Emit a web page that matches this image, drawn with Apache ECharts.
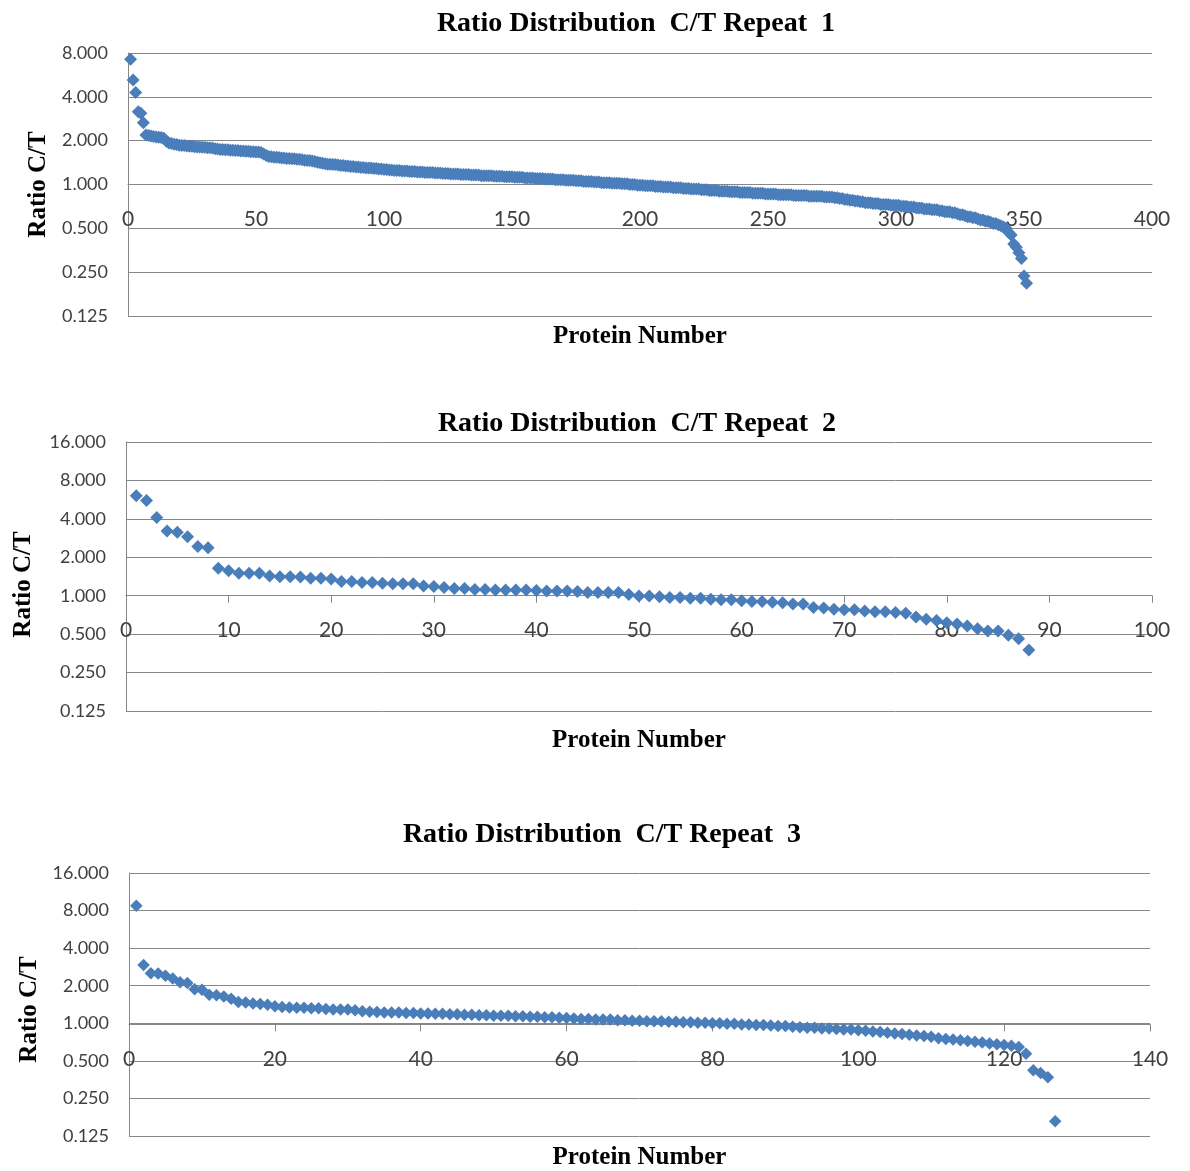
<!DOCTYPE html>
<html>
<head>
<meta charset="utf-8">
<script src="https://cdn.jsdelivr.net/npm/echarts@6/dist/echarts.min.js"></script>
<style>
  html, body { margin: 0; padding: 0; background: #ffffff; }
  #chart { width: 1190px; height: 1171px; }
</style>
</head>
<body>
<div id="chart"></div>
<script>
// Sorted C/T ratios per protein, one array per repeat (protein number = position + 1)
const ratiosRepeat1 = [
  7.24, 5.22, 4.29, 3.16, 3.08, 2.66, 2.19, 2.17, 2.15, 2.14,
  2.12, 2.11, 2.10, 2.08, 1.98, 1.93, 1.91, 1.89, 1.88, 1.86,
  1.85, 1.85, 1.84, 1.83, 1.83, 1.82, 1.81, 1.81, 1.80, 1.80,
  1.79, 1.79, 1.78, 1.76, 1.75, 1.74, 1.74, 1.73, 1.73, 1.72,
  1.72, 1.71, 1.71, 1.70, 1.70, 1.69, 1.69, 1.68, 1.68, 1.67,
  1.67, 1.66, 1.62, 1.58, 1.56, 1.55, 1.54, 1.54, 1.53, 1.52,
  1.52, 1.51, 1.51, 1.50, 1.50, 1.49, 1.49, 1.48, 1.47, 1.46,
  1.46, 1.45, 1.44, 1.42, 1.41, 1.40, 1.39, 1.38, 1.38, 1.37,
  1.37, 1.36, 1.35, 1.35, 1.34, 1.34, 1.33, 1.33, 1.32, 1.32,
  1.31, 1.31, 1.30, 1.30, 1.30, 1.29, 1.29, 1.28, 1.28, 1.27,
  1.27, 1.26, 1.26, 1.25, 1.25, 1.25, 1.24, 1.24, 1.24, 1.23,
  1.23, 1.23, 1.22, 1.22, 1.22, 1.21, 1.21, 1.21, 1.21, 1.20,
  1.20, 1.20, 1.19, 1.19, 1.19, 1.18, 1.18, 1.18, 1.18, 1.17,
  1.17, 1.17, 1.17, 1.16, 1.16, 1.16, 1.16, 1.15, 1.15, 1.15,
  1.15, 1.15, 1.14, 1.14, 1.14, 1.14, 1.13, 1.13, 1.13, 1.13,
  1.12, 1.12, 1.12, 1.12, 1.11, 1.11, 1.11, 1.11, 1.10, 1.10,
  1.10, 1.10, 1.09, 1.09, 1.09, 1.09, 1.08, 1.08, 1.08, 1.08,
  1.07, 1.07, 1.07, 1.07, 1.06, 1.06, 1.06, 1.05, 1.05, 1.05,
  1.05, 1.04, 1.04, 1.04, 1.03, 1.03, 1.03, 1.03, 1.02, 1.02,
  1.02, 1.02, 1.01, 1.01, 1.01, 1.00, 1.00, 1.00, 0.99, 0.99,
  0.99, 0.98, 0.98, 0.98, 0.98, 0.97, 0.97, 0.97, 0.96, 0.96,
  0.96, 0.96, 0.95, 0.95, 0.95, 0.95, 0.94, 0.94, 0.94, 0.93,
  0.93, 0.93, 0.93, 0.92, 0.92, 0.92, 0.91, 0.91, 0.91, 0.91,
  0.90, 0.90, 0.90, 0.90, 0.89, 0.89, 0.89, 0.89, 0.88, 0.88,
  0.88, 0.88, 0.88, 0.87, 0.87, 0.87, 0.87, 0.87, 0.86, 0.86,
  0.86, 0.86, 0.86, 0.85, 0.85, 0.85, 0.85, 0.85, 0.85, 0.84,
  0.84, 0.84, 0.84, 0.84, 0.84, 0.83, 0.83, 0.83, 0.83, 0.83,
  0.83, 0.82, 0.82, 0.82, 0.82, 0.81, 0.81, 0.80, 0.80, 0.79,
  0.79, 0.78, 0.78, 0.77, 0.77, 0.76, 0.76, 0.75, 0.75, 0.75,
  0.74, 0.74, 0.74, 0.73, 0.73, 0.73, 0.73, 0.72, 0.72, 0.72,
  0.72, 0.71, 0.71, 0.71, 0.70, 0.70, 0.70, 0.69, 0.69, 0.69,
  0.68, 0.68, 0.68, 0.67, 0.67, 0.67, 0.66, 0.66, 0.65, 0.65,
  0.65, 0.64, 0.64, 0.63, 0.62, 0.62, 0.61, 0.60, 0.60, 0.59,
  0.59, 0.58, 0.57, 0.57, 0.56, 0.56, 0.55, 0.54, 0.54, 0.53,
  0.52, 0.51, 0.50, 0.47, 0.45, 0.39, 0.37, 0.34, 0.31, 0.235, 0.21
];

const ratiosRepeat2 = [
  6.06, 5.58, 4.09, 3.21, 3.14, 2.90, 2.43, 2.38, 1.64, 1.57,
  1.50, 1.50, 1.50, 1.43, 1.41, 1.41, 1.40, 1.37, 1.37, 1.35,
  1.29, 1.29, 1.27, 1.27, 1.25, 1.24, 1.24, 1.24, 1.19, 1.18,
  1.16, 1.14, 1.14, 1.12, 1.12, 1.11, 1.11, 1.11, 1.11, 1.10,
  1.09, 1.09, 1.09, 1.08, 1.06, 1.06, 1.06, 1.06, 1.02, 0.995,
  0.995, 0.98, 0.97, 0.97, 0.955, 0.955, 0.94, 0.93, 0.93, 0.915,
  0.90, 0.90, 0.89, 0.88, 0.86, 0.86, 0.81, 0.80, 0.785, 0.775,
  0.775, 0.76, 0.75, 0.75, 0.74, 0.73, 0.68, 0.655, 0.64, 0.615,
  0.60, 0.58, 0.55, 0.53, 0.53, 0.49, 0.46, 0.375
];

const ratiosRepeat3 = [
  8.74, 2.93, 2.52, 2.50, 2.40, 2.28, 2.13, 2.10, 1.87, 1.86,
  1.69, 1.68, 1.64, 1.57, 1.48, 1.47, 1.44, 1.43, 1.41, 1.37,
  1.35, 1.34, 1.33, 1.33, 1.32, 1.32, 1.30, 1.29, 1.29, 1.29,
  1.27, 1.25, 1.24, 1.23, 1.22, 1.22, 1.22, 1.21, 1.21, 1.20,
  1.20, 1.19, 1.19, 1.18, 1.18, 1.17, 1.17, 1.16, 1.16, 1.15,
  1.15, 1.15, 1.14, 1.14, 1.13, 1.13, 1.12, 1.12, 1.11, 1.10,
  1.09, 1.08, 1.08, 1.07, 1.07, 1.07, 1.06, 1.06, 1.05, 1.05,
  1.04, 1.04, 1.04, 1.03, 1.03, 1.02, 1.02, 1.01, 1.01, 1.00,
  1.00, 0.99, 0.99, 0.98, 0.98, 0.97, 0.97, 0.96, 0.95, 0.95,
  0.94, 0.93, 0.92, 0.92, 0.91, 0.91, 0.90, 0.89, 0.89, 0.88,
  0.87, 0.86, 0.85, 0.84, 0.83, 0.82, 0.81, 0.80, 0.79, 0.78,
  0.76, 0.75, 0.74, 0.73, 0.72, 0.71, 0.70, 0.69, 0.68, 0.67,
  0.66, 0.645, 0.57, 0.42, 0.40, 0.37, 0.164
];

const chartTitles = [
  'Ratio Distribution  C/T Repeat  1',
  'Ratio Distribution  C/T Repeat  2',
  'Ratio Distribution  C/T Repeat  3'
];
const xAxisTitle = 'Protein Number';
const yAxisTitle = 'Ratio C/T';
const xMaxima = [400, 100, 140];
const xSteps = [50, 10, 20];
const yMinima = [0.125, 0.125, 0.125];
const yMaxima = [8, 16, 16];

// Panel geometry and styling
const panels = [
  { grid: { left: 128, top: 53, width: 1024, height: 263 }, titleX: 636, titleTop: 10,
    xTicks: false, yNameGap: 74, yNamePad: [0, 0, 0, 0], xNameGap: 8, symbolSize: 13 },
  { grid: { left: 126, top: 442, width: 1026, height: 269 }, titleX: 637, titleTop: 410,
    xTicks: true, yNameGap: 90, yNamePad: [0, 16, 0, 0], xNameGap: 17, symbolSize: 13 },
  { grid: { left: 129, top: 873, width: 1021, height: 265 }, titleX: 602, titleTop: 821,
    xTicks: true, yNameGap: 87, yNamePad: [0, 10, 0, 0], xNameGap: 9, symbolSize: 12.5 }
];
const allRatios = [ratiosRepeat1, ratiosRepeat2, ratiosRepeat3];

const markerColor = '#4a7ebb';
const lineColor = '#878787';
const labelColor = '#404040';
const labelFont = 'Lato, "Open Sans", sans-serif';
const heavyFont = '"Liberation Serif", "Times New Roman", serif';

const grids = [], xAxes = [], yAxes = [], series = [], titles = [];

panels.forEach((p, i) => {
  const g = p.grid;
  const lo = Math.log2(yMinima[i]), hi = Math.log2(yMaxima[i]);
  // vertical position of ratio 1.0, where the protein-number axis crosses
  const crossY = g.top + g.height * hi / (hi - lo);

  grids.push({ left: g.left, top: g.top, width: g.width, height: g.height, containLabel: false });
  grids.push({ left: g.left, top: crossY - 1, width: g.width, height: 1, containLabel: false });

  titles.push({
    text: chartTitles[i],
    left: p.titleX,
    top: p.titleTop,
    textAlign: 'center',
    padding: 0,
    textStyle: { fontFamily: heavyFont, fontWeight: 'bold', fontSize: 28, color: '#000000' }
  });

  // data axis (hidden line/labels, carries the axis title)
  xAxes.push({
    type: 'value', gridIndex: 2 * i, min: 0, max: xMaxima[i], interval: xSteps[i],
    axisLine: { show: false }, axisTick: { show: false }, axisLabel: { show: false },
    splitLine: { show: false },
    name: xAxisTitle, nameLocation: 'middle', nameGap: p.xNameGap,
    nameTextStyle: { fontFamily: heavyFont, fontWeight: 'bold', fontSize: 25, color: '#000000',
      verticalAlign: 'top' }
  });
  // visible protein-number axis drawn at ratio 1.0
  xAxes.push({
    type: 'value', gridIndex: 2 * i + 1, min: 0, max: xMaxima[i], interval: xSteps[i],
    position: 'bottom',
    axisLine: { show: true, lineStyle: { color: lineColor, width: 1 } },
    axisTick: { show: p.xTicks, length: 7, lineStyle: { color: lineColor } },
    axisLabel: { show: true, margin: 24, fontFamily: labelFont, fontSize: 21, color: labelColor,
      showMinLabel: true, showMaxLabel: true, hideOverlap: false },
    splitLine: { show: false }
  });

  yAxes.push({
    type: 'log', logBase: 2, gridIndex: 2 * i, min: yMinima[i], max: yMaxima[i],
    splitNumber: hi - lo,
    axisLine: { show: true, lineStyle: { color: lineColor, width: 1 } },
    axisTick: { show: false },
    axisLabel: { margin: 20, fontFamily: labelFont, fontSize: 18, color: labelColor,
      formatter: v => Number(v).toFixed(3) },
    splitLine: { show: true, lineStyle: { color: lineColor, width: 1 } },
    name: yAxisTitle, nameLocation: 'middle', nameRotate: 90, nameGap: p.yNameGap,
    nameTextStyle: { fontFamily: heavyFont, fontWeight: 'bold', fontSize: 25, color: '#000000',
      padding: p.yNamePad }
  });
  yAxes.push({ type: 'value', gridIndex: 2 * i + 1, show: false, min: 0, max: 1 });

  series.push({
    type: 'scatter',
    xAxisIndex: 2 * i,
    yAxisIndex: 2 * i,
    symbol: 'diamond',
    symbolSize: p.symbolSize,
    itemStyle: { color: markerColor, opacity: 1 },
    data: allRatios[i].map((v, k) => [k + 1, v]),
    z: 3
  });
});

const chart = echarts.init(document.getElementById('chart'), null, { renderer: 'canvas' });
chart.setOption({
  animation: false,
  backgroundColor: '#ffffff',
  title: titles,
  grid: grids,
  xAxis: xAxes,
  yAxis: yAxes,
  series: series
});
</script>
</body>
</html>
